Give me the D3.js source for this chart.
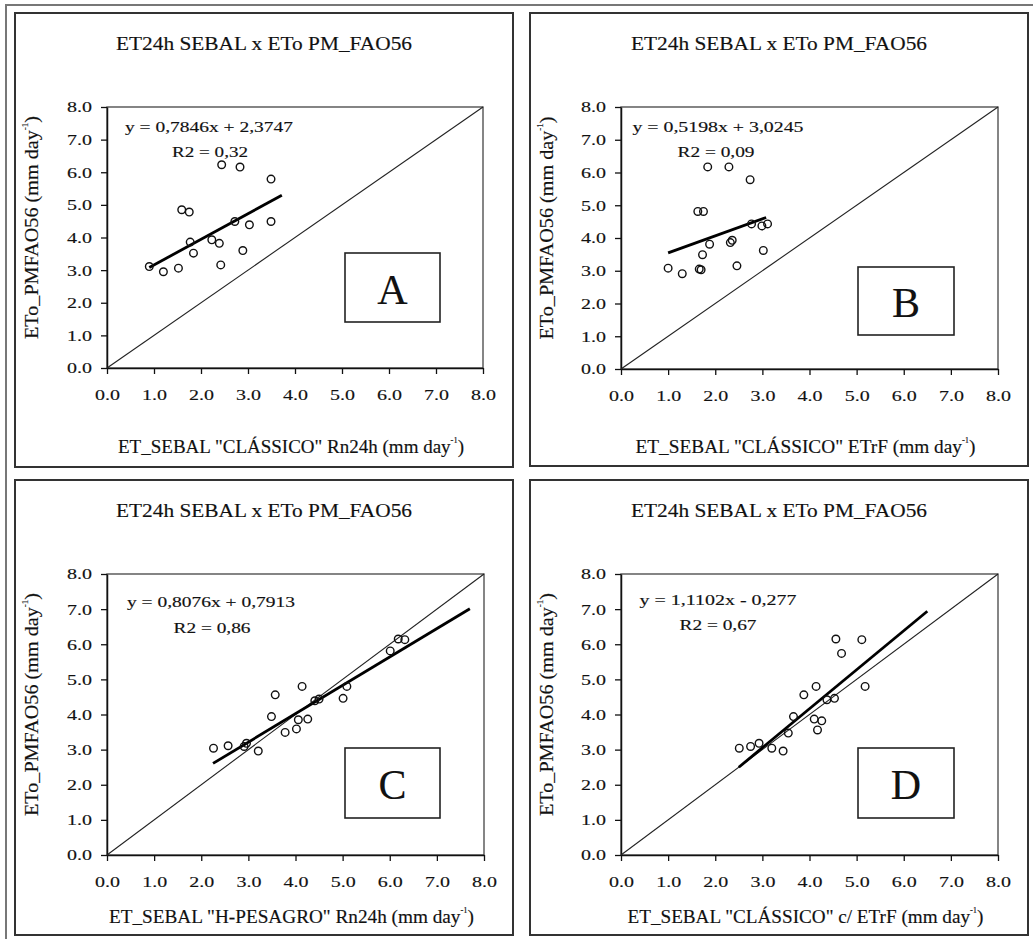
<!DOCTYPE html>
<html>
<head>
<meta charset="utf-8">
<script src="https://cdn.jsdelivr.net/npm/d3@7"></script>
<style>
  body { margin: 0; background: #fff; }
  svg { display: block; }
  svg text { font-family: "Liberation Serif", "Times New Roman", Times, "DejaVu Serif", serif !important; fill: #111; stroke: #111; stroke-width: 0.15px; }
</style>
</head>
<body>
<svg id="chart" width="1033" height="939"></svg>
<script>
// ---- data ----
const panelLetters = ["A", "B", "C", "D"];
const chartTitle = "ET24h SEBAL x ETo PM_FAO56";
const yAxisTitle = "ETo_PMFAO56 (mm day";
const xAxisTitles = [
  'ET_SEBAL "CLÁSSICO" Rn24h (mm day',
  'ET_SEBAL "CLÁSSICO" ETrF (mm day',
  'ET_SEBAL "H-PESAGRO" Rn24h (mm day',
  'ET_SEBAL "CLÁSSICO" c/ ETrF (mm day'
];
const axisTicks = [0, 1, 2, 3, 4, 5, 6, 7, 8];
const tickLabels = ["0.0", "1.0", "2.0", "3.0", "4.0", "5.0", "6.0", "7.0", "8.0"];

// A: SEBAL "clássico" Rn24h vs ETo PM FAO56
const sebalA = [0.90, 1.20, 1.52, 1.59, 1.75, 1.77, 1.84, 2.23, 2.39, 2.44, 2.42, 2.72, 2.83, 2.89, 3.03, 3.49, 3.49];
const etoA   = [3.11, 2.95, 3.06, 4.85, 4.78, 3.86, 3.52, 3.93, 3.82, 6.23, 3.16, 4.49, 6.16, 3.60, 4.39, 5.79, 4.49];
// B: SEBAL "clássico" ETrF
const sebalB = [1.00, 1.30, 1.63, 1.75, 1.66, 1.70, 1.73, 1.84, 1.88, 2.29, 2.32, 2.36, 2.46, 2.74, 2.77, 2.99, 3.11, 3.02];
const etoB   = [3.08, 2.91, 4.81, 4.81, 3.05, 3.03, 3.49, 6.17, 3.81, 6.17, 3.86, 3.93, 3.15, 5.78, 4.43, 4.37, 4.43, 3.62];
// C: SEBAL "H-PESAGRO" Rn24h
const sebalC = [2.26, 2.57, 2.91, 2.96, 3.21, 3.49, 3.57, 3.78, 4.02, 4.06, 4.26, 4.14, 4.41, 4.50, 5.01, 5.09, 6.01, 6.18, 6.32];
const etoC   = [3.04, 3.11, 3.09, 3.18, 2.96, 3.94, 4.56, 3.49, 3.59, 3.85, 3.87, 4.80, 4.39, 4.44, 4.46, 4.80, 5.81, 6.15, 6.13];
// D: SEBAL "clássico" com ETrF
const sebalD = [2.51, 2.75, 2.93, 3.20, 3.44, 3.55, 3.66, 3.88, 4.14, 4.10, 4.26, 4.17, 4.37, 4.53, 4.56, 4.68, 5.11, 5.18];
const etoD   = [3.04, 3.09, 3.18, 3.04, 2.96, 3.47, 3.94, 4.56, 4.80, 3.87, 3.82, 3.56, 4.42, 4.46, 6.15, 5.74, 6.13, 4.80];

const trendSlopes     = [0.7846, 0.5198, 0.8076, 1.1102];
const trendIntercepts = [2.3747, 3.0245, 0.7913, -0.277];
const rSquared        = [0.32, 0.09, 0.86, 0.67];
const trendFrom       = [0.90, 1.00, 2.25, 2.50];
const trendTo         = [3.72, 3.08, 7.70, 6.50];

const seriesX = [sebalA, sebalB, sebalC, sebalD];
const seriesY = [etoA, etoB, etoC, etoD];

// ---- layout of the four panels (page pixels) ----
const layout = [
  { box: [15, 13, 498, 454],  plot: [107, 107, 376, 261], titleY: 43,  xLabY: 447, yLabX: 32,  eq: [102, 20], r2: [103, 45], eqW: 168, r2W: 76, tag: [238, 146, 95, 69], xLabW: 346 },
  { box: [530, 13, 498, 453], plot: [621, 107, 377, 262], titleY: 43,  xLabY: 447, yLabX: 547, eq: [97, 20],  r2: [95, 45],  eqW: 171, r2W: 77, tag: [237, 160, 96, 68], xLabW: 340 },
  { box: [15, 480, 498, 455], plot: [107, 574, 377, 281], titleY: 510, xLabY: 917, yLabX: 32,  eq: [104, 28], r2: [105, 54], eqW: 168, r2W: 77, tag: [238, 174, 95, 70], xLabW: 365 },
  { box: [530, 480, 498, 455],plot: [621, 574, 377, 281], titleY: 510, xLabY: 917, yLabX: 547, eq: [97, 26],  r2: [97, 51],  eqW: 157, r2W: 77, tag: [237, 174, 96, 70], xLabW: 356 }
];

const serif = '"Liberation Serif", "Times New Roman", Times, "DejaVu Serif", serif';

const svg = d3.select("#chart").attr("font-family", serif);
svg.append("rect").attr("width", 1033).attr("height", 939).attr("fill", "#fff");

// outer frame of the figure
svg.append("rect")
  .attr("x", 6).attr("y", 5).attr("width", 1040).attr("height", 950)
  .attr("fill", "none").attr("stroke", "#777").attr("stroke-width", 2);

const decimal = v => String(v).replace(".", ",");

layout.forEach((L, i) => {
  const [bx, by, bw, bh] = L.box;
  const [px, py, pw, ph] = L.plot;

  svg.append("rect")
    .attr("x", bx).attr("y", by).attr("width", bw).attr("height", bh)
    .attr("fill", "#fff").attr("stroke", "#333").attr("stroke-width", 2);

  const x = d3.scaleLinear().domain([0, 8]).range([px, px + pw]);
  const y = d3.scaleLinear().domain([0, 8]).range([py + ph, py]);

  // title
  svg.append("text")
    .attr("x", bx + bw / 2).attr("y", L.titleY)
    .attr("text-anchor", "middle").attr("dominant-baseline", "central")
    .attr("font-size", 19)
    .attr("textLength", 296).attr("lengthAdjust", "spacingAndGlyphs")
    .text(chartTitle);

  // plot area border
  svg.append("rect")
    .attr("x", px).attr("y", py).attr("width", pw).attr("height", ph)
    .attr("fill", "none").attr("stroke", "#444").attr("stroke-width", 1.3);

  // axes
  const gx = svg.append("g").attr("transform", `translate(0,${py + ph})`)
    .call(d3.axisBottom(x).tickValues(axisTicks).tickFormat((d, k) => tickLabels[k])
      .tickSize(6).tickSizeOuter(0).tickPadding(15));
  const gy = svg.append("g").attr("transform", `translate(${px},0)`)
    .call(d3.axisLeft(y).tickValues(axisTicks).tickFormat((d, k) => tickLabels[k])
      .tickSize(6).tickSizeOuter(0).tickPadding(9));
  [gx, gy].forEach(g => {
    g.attr("font-family", serif);
    g.select(".domain").attr("stroke", "#111").attr("stroke-width", 1.5);
    g.selectAll(".tick line").attr("stroke", "#111").attr("stroke-width", 1.3);
    g.selectAll(".tick text")
      .attr("font-size", 15.5)
      .attr("fill", "#111")
      .attr("textLength", 25).attr("lengthAdjust", "spacingAndGlyphs");
  });

  // 1:1 line
  svg.append("line")
    .attr("x1", x(0)).attr("y1", y(0)).attr("x2", x(8)).attr("y2", y(8))
    .attr("stroke", "#222").attr("stroke-width", 1.1);

  // linear trend line from the fitted equation
  const s = trendSlopes[i], b = trendIntercepts[i];
  svg.append("line")
    .attr("x1", x(trendFrom[i])).attr("y1", y(s * trendFrom[i] + b))
    .attr("x2", x(trendTo[i])).attr("y2", y(s * trendTo[i] + b))
    .attr("stroke", "#000").attr("stroke-width", 2.8);

  // observations
  svg.append("g").selectAll("circle")
    .data(seriesX[i].map((v, k) => [v, seriesY[i][k]]))
    .join("circle")
    .attr("cx", d => x(d[0])).attr("cy", d => y(d[1]))
    .attr("r", 3.8)
    .attr("fill", "none").attr("stroke", "#111").attr("stroke-width", 1.4);

  // equation and R2
  const eqText = `y = ${decimal(s)}x ${b < 0 ? "-" : "+"} ${decimal(Math.abs(b))}`;
  svg.append("text")
    .attr("x", px + L.eq[0]).attr("y", py + L.eq[1])
    .attr("text-anchor", "middle").attr("dominant-baseline", "central")
    .attr("font-size", 15)
    .attr("textLength", L.eqW).attr("lengthAdjust", "spacingAndGlyphs")
    .text(eqText);
  svg.append("text")
    .attr("x", px + L.r2[0]).attr("y", py + L.r2[1])
    .attr("text-anchor", "middle").attr("dominant-baseline", "central")
    .attr("font-size", 15)
    .attr("textLength", L.r2W).attr("lengthAdjust", "spacingAndGlyphs")
    .text(`R2 = ${decimal(rSquared[i].toFixed(2))}`);

  // panel letter box
  const [tx, ty, tw, th] = L.tag;
  svg.append("rect")
    .attr("x", px + tx).attr("y", py + ty).attr("width", tw).attr("height", th)
    .attr("fill", "#fff").attr("stroke", "#222").attr("stroke-width", 1.6);
  svg.append("text")
    .attr("x", px + tx + tw / 2).attr("y", py + ty + th / 2 + 2)
    .attr("text-anchor", "middle").attr("dominant-baseline", "central")
    .attr("font-size", 42)
    .style("stroke-width", "0.1px")
    .text(panelLetters[i]);

  // x axis title
  const xt = svg.append("text")
    .attr("x", px + pw / 2 - 4).attr("y", L.xLabY)
    .attr("text-anchor", "middle").attr("dominant-baseline", "central")
    .attr("font-size", 18)
    .attr("textLength", L.xLabW).attr("lengthAdjust", "spacingAndGlyphs");
  xt.append("tspan").text(xAxisTitles[i]);
  xt.append("tspan").attr("font-size", 8).attr("dy", -7).text("-1");
  xt.append("tspan").attr("dy", 7).text(")");

  // y axis title
  const yt = svg.append("text")
    .attr("transform", `translate(${L.yLabX},${py + ph / 2 - 10}) rotate(-90)`)
    .attr("text-anchor", "middle").attr("dominant-baseline", "central")
    .attr("font-size", 18)
    .attr("textLength", 223).attr("lengthAdjust", "spacingAndGlyphs");
  yt.append("tspan").text(yAxisTitle);
  yt.append("tspan").attr("font-size", 8).attr("dy", -7).text("-1");
  yt.append("tspan").attr("dy", 7).text(")");
});
</script>
</body>
</html>
